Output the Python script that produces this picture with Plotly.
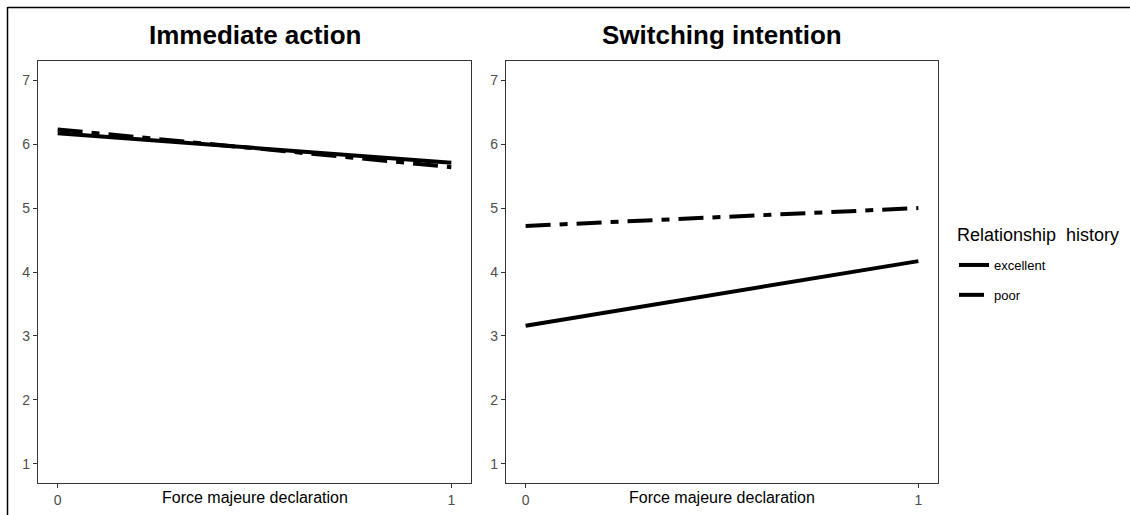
import plotly.graph_objects as go

# ---- data ----
x_vals = [0, 1]
groups = ["excellent", "poor"]
immediate_excellent = [6.17, 5.71]
immediate_poor = [6.23, 5.64]
switching_excellent = [3.16, 4.17]
switching_poor = [4.72, 5.00]
panel_titles = ["Immediate action", "Switching intention"]
x_title = "Force majeure declaration"
legend_title = "Relationship\u00a0 history"
y_ticks = [1, 2, 3, 4, 5, 6, 7]
x_ticks = [0, 1]

W, H = 1130, 515
FONT = "Liberation Sans, Arial, sans-serif"
DASHDOT = "25px,9px,8px,9px"
styles = {"excellent": "solid", "poor": DASHDOT}

fig = go.Figure()
series = {
    ("x", "y"): {"excellent": immediate_excellent, "poor": immediate_poor},
    ("x2", "y2"): {"excellent": switching_excellent, "poor": switching_poor},
}
first = True
for (xa, ya), data in series.items():
    for g in groups:
        fig.add_trace(go.Scatter(
            x=x_vals, y=data[g], mode="lines", name=g,
            xaxis=xa, yaxis=ya, legendgroup=g, showlegend=first,
            line=dict(color="black", width=4, dash=styles[g]),
        ))
    first = False

ydom = [1 - 483 / H, 1 - 61 / H]
axis_common = dict(
    showgrid=False, zeroline=False, showline=True, mirror=True,
    linecolor="#333333", linewidth=1.2, ticks="outside", ticklen=4,
    tickcolor="#333333", tickwidth=1.2,
    tickfont=dict(family=FONT, size=14, color="#4d4d4d"),
)
fig.update_layout(
    width=W, height=H,
    margin=dict(l=0, r=0, t=0, b=0),
    paper_bgcolor="white", plot_bgcolor="white",
    font=dict(family=FONT, color="black"),
    xaxis=dict(domain=[38 / W, 471 / W], range=[-0.05, 1.05], tickvals=x_ticks, anchor="y", **axis_common),
    yaxis=dict(domain=ydom, range=[0.7, 7.3], tickvals=y_ticks, anchor="x", **axis_common),
    xaxis2=dict(domain=[506 / W, 938 / W], range=[-0.05, 1.05], tickvals=x_ticks, anchor="y2", **axis_common),
    yaxis2=dict(domain=ydom, range=[0.7, 7.3], tickvals=y_ticks, anchor="x2", **axis_common),
    legend=dict(
        x=954 / W, y=1 - 250 / H, xanchor="left", yanchor="top",
        font=dict(family=FONT, size=13, color="black"),
        traceorder="grouped", tracegroupgap=10,
        bgcolor="rgba(0,0,0,0)",
    ),
    showlegend=True,
)

annotations = []
for title, cx in zip(panel_titles, [(38 + 471) / 2, (506 + 938) / 2]):
    annotations.append(dict(
        text="<b>" + title + "</b>", x=cx / W, y=1 - 35 / H, xref="paper", yref="paper",
        xanchor="center", yanchor="middle", showarrow=False,
        font=dict(family=FONT, size=26, color="black"),
    ))
    annotations.append(dict(
        text=x_title, x=cx / W, y=1 - 497 / H, xref="paper", yref="paper",
        xanchor="center", yanchor="middle", showarrow=False,
        font=dict(family=FONT, size=16, color="black"),
    ))
annotations.append(dict(
    text=legend_title, x=955 / W, y=1 - 235 / H, xref="paper", yref="paper",
    xanchor="left", yanchor="middle", showarrow=False,
    font=dict(family=FONT, size=18, color="black"),
))
fig.update_layout(annotations=annotations)

# outer frame (left and top edges)
fig.add_shape(type="line", xref="paper", yref="paper", x0=7.5 / W, x1=7.5 / W, y0=0, y1=1 - 7 / H,
              line=dict(color="black", width=1.5))
fig.add_shape(type="line", xref="paper", yref="paper", x0=7.5 / W, x1=1, y0=1 - 7.5 / H, y1=1 - 7.5 / H,
              line=dict(color="black", width=1.5))

fig.write_html("out.html")
